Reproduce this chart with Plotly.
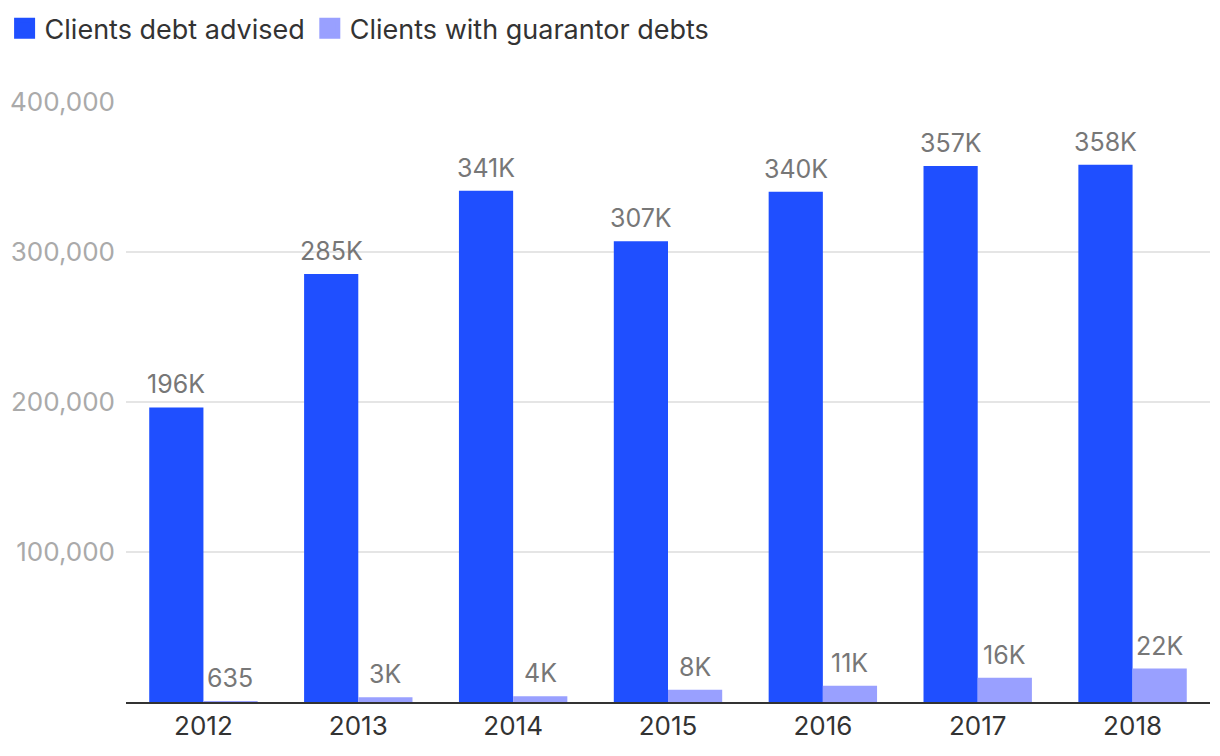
import plotly.graph_objects as go

years = ["2012", "2013", "2014", "2015", "2016", "2017", "2018"]
advised = [196400, 285300, 340800, 307200, 340200, 357300, 358100]
guarantor = [635, 3100, 3800, 8200, 10900, 16200, 22300]
advised_labels = ["196K", "285K", "341K", "307K", "340K", "357K", "358K"]
guarantor_labels = ["635", "3K", "4K", "8K", "11K", "16K", "22K"]
y_ticks = [100000, 200000, 300000, 400000]
y_tick_labels = ["100,000", "200,000", "300,000", "400,000"]

blue = "#1f4fff"
light = "#99a0ff"
FONT = "Inter"

fig = go.Figure()
fig.add_trace(go.Bar(
    x=years, y=advised, name="Clients debt advised",
    marker=dict(color=blue, line=dict(width=0)), showlegend=False,
))
fig.add_trace(go.Bar(
    x=years, y=guarantor, name="Clients with guarantor debts",
    marker=dict(color=light, line=dict(width=0)), showlegend=False,
))
# legend entries
for nm, col in [("Clients debt advised", blue), ("Clients with guarantor debts", light)]:
    fig.add_trace(go.Scatter(
        x=[years[0]], y=[None], mode="markers", name=nm,
        marker=dict(symbol="square", size=16, color=col, line=dict(color=col, width=13)),
        showlegend=True,
    ))

# value labels above bars (category axis -> use category index)
for vals, labs, dx in [(advised, advised_labels, -27), (guarantor, guarantor_labels, 27)]:
    for i, (v, t) in enumerate(zip(vals, labs)):
        fig.add_annotation(
            x=i, y=v, text=t, showarrow=False, xref="x", yref="y",
            xanchor="center", yanchor="bottom", xshift=dx, yshift=6,
            font=dict(size=25, color="#777777", family=FONT),
        )

fig.update_layout(
    width=1220, height=756,
    margin=dict(l=126, r=10, t=102, b=54, autoexpand=False),
    paper_bgcolor="white", plot_bgcolor="white",
    barmode="group", bargap=0.3, bargroupgap=0,
    font=dict(family=FONT, size=26, color="#333333"),
    legend=dict(
        orientation="h", x=-0.112, xanchor="left", y=1.163, yanchor="top",
        font=dict(size=27, color="#333333", family=FONT),
        itemsizing="trace", itemwidth=30, tracegroupgap=0,
    ),
    xaxis=dict(
        type="category", categoryorder="array", categoryarray=years,
        range=[-0.5, len(years) - 0.5],
        showline=True, linecolor="#333333", linewidth=2,
        ticks="", tickfont=dict(size=26, color="#333333", family=FONT),
        showgrid=False,
    ),
    yaxis=dict(
        range=[0, 400000], tickvals=y_ticks, ticktext=y_tick_labels,
        showgrid=True, gridcolor="#e5e5e5", gridwidth=1.5,
        zeroline=False, showline=False, ticks="",
        tickfont=dict(size=26, color="#aaaaaa", family=FONT),
        ticklabelstandoff=10,
    ),
)

fig.write_html("out.html")
